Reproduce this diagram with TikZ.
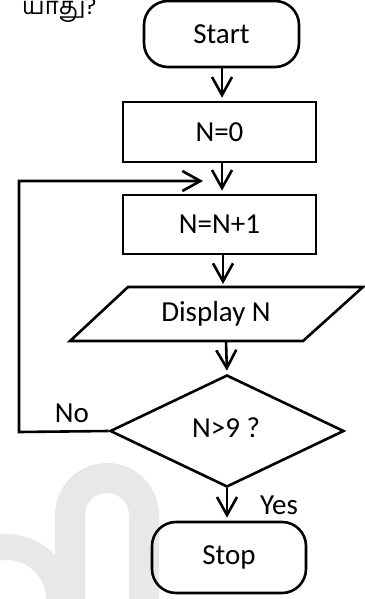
\documentclass[tikz,border=0pt]{standalone}
\usepackage{fontspec}
\setmainfont{Carlito}
\newfontfamily\tamilfont[Script=Tamil]{Hind Madurai}
\usetikzlibrary{arrows.meta,shapes.geometric}
\begin{document}
\begin{tikzpicture}[x=1pt,y=-1pt,
  every node/.style={font=\fontsize{29}{31}\selectfont},
  flow/.style={line width=2.6pt},
  box/.style={draw,flow,rectangle,inner sep=0pt},
  term/.style={draw,flow,rectangle,rounded corners=24pt,inner sep=0pt},
  conn/.style={flow,-{Straight Barb[length=18pt,width=20pt]},shorten >=3pt},
  lbl/.style={inner sep=0pt},
  wm/.style={draw=black!9,line width=30pt}]
\useasboundingbox (0,0) rectangle (364,599);
% watermark
\draw[wm] (70,599) -- (70,515) arc(180:360:37) -- (144,599);
\draw[wm,line width=26pt] (-45,599) arc(180:360:52);
% title fragment
\node[lbl,anchor=west,font=\tamilfont\fontsize{24}{26}\selectfont] (q) at (22,10) {யாது?};
% nodes
\node[term,minimum width=155pt,minimum height=66pt] (start) at (221.5,34) {Start};
\node[box,minimum width=193pt,minimum height=60pt] (n0) at (219.5,132) {N=0};
\node[box,minimum width=193pt,minimum height=59pt] (n1) at (219.5,224.5) {N=N+1};
\draw[flow,line join=miter] (128,287) -- (363,287) -- (303,341) -- (70,341) -- cycle;
\node[lbl] (disp) at (216,314) {Display N};
\coordinate (dispT) at (223,287);
\coordinate (dispB) at (226,341);
\node[draw,flow,diamond,minimum width=234pt,minimum height=112pt,inner sep=0pt] (dec) at (227,431) {};
\node[lbl] (dect) at (226,428) {N>9 ?};
\node[term,minimum width=154pt,minimum height=71pt] (stop) at (229,557.5) {Stop};
\node[lbl] (no) at (72,413) {No};
\node[lbl] (yes) at (279,505) {Yes};
% connectors
\draw[conn] (start.south -| 222,0) -- (n0.north -| 222,0);
\draw[conn] (n0.south -| 222,0) -- (n1.north -| 222,0);
\draw[conn] (n1.south -| 223,0) -- (dispT);
\draw[conn] (dispB) -- (dec.north);
\draw[conn] (dec.south) -- (stop.north -| dec.south);
\coordinate (loopEnd) at (203,181);
\draw[conn,shorten >=0pt,line join=miter] (dec.west) -- (19,432) -- (19,181) -- (loopEnd);
\end{tikzpicture}
\end{document}
